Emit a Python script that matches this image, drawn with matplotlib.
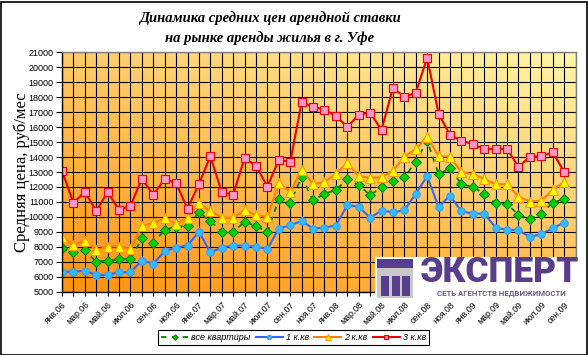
import numpy as np
import matplotlib
matplotlib.use("Agg")
import matplotlib.pyplot as plt
from matplotlib.patches import Rectangle

months = ["янв", "фев", "мар", "апр", "май", "июн", "июл", "авг", "сен", "окт", "ноя", "дек"]
categories = [f"{m}.{y:02d}" for y in (6, 7, 8, 9) for m in months][:46]

all_flats = [7900, 7620, 7770, 6990, 7080, 7170, 7170, 8570, 8280, 9130, 9350, 9400,
             10310, 9710, 9020, 9020, 9640, 9400, 9000, 11180, 10910, 12690, 11110,
             11540, 11800, 12520, 12140, 11450, 11980, 12400, 12650, 13680, 15100, 12850,
             13260, 12180, 12000, 11540, 10910, 10870, 10130, 9870, 10200, 10960, 11180]
one_room = [6350, 6320, 6410, 6120, 6120, 6300, 6300, 7080, 6880, 7700, 7950, 8080,
            9020, 7620, 7950, 8080, 8080, 7990, 7860, 9220, 9440, 9730, 9220,
            9290, 9420, 10780, 10690, 9950, 10420, 10310, 10440, 11540, 12720, 10670,
            11420, 10380, 10220, 10220, 9290, 9130, 9130, 8640, 8860, 9240, 9620]
two_room = [8640, 8130, 8420, 7790, 8020, 8020, 7860, 9400, 9580, 9910, 9530, 9950,
            10930, 10380, 9950, 9910, 10470, 10110, 9980, 12250, 11690, 13140, 12180,
            12340, 12870, 13630, 12720, 12600, 12650, 13090, 14010, 14540, 15370, 14050,
            14030, 12980, 12870, 12540, 12180, 12180, 11360, 11020, 11090, 11800, 12330]
three_room = [13070, 10950, 11660, 10410, 11660, 10460, 10750, 12530, 11480, 12530, 12250, 10550,
              12200, 14050, 11660, 11480, 13940, 13420, 12020, 13820, 13670, 17660, 17370,
              17150, 16750, 16010, 16830, 16970, 15810, 18620, 18020, 18300, 20640, 16900,
              15480, 15090, 14870, 14520, 14540, 14540, 13340, 14020, 14050, 14320, 13020]

series_names = ["все квартиры", "1 к.кв", "2 к.кв", "3 к.кв"]
title = "Динамика средних цен арендной ставки\nна рынке аренды жилья в г. Уфе"
ylabel = "Средняя цена, руб/мес"
y_ticks = list(range(5000, 21001, 1000))

W, H = 588, 355
fig = plt.figure(figsize=(W / 100, H / 100), dpi=100)
fig.patch.set_facecolor("white")

L, R, T, B = 62, 575.5, 52.3, 291.7
ax = fig.add_axes([L / W, 1 - B / H, (R - L) / W, (B - T) / H])

n = len(categories)
x = np.arange(len(three_room))

# gradient background
gx = np.linspace(0, 1, 200)
gy = np.linspace(0, 1, 200)
GX, GY = np.meshgrid(gx, gy)
t = np.clip((GX * 0.55 + GY * 0.75) / 1.3, 0, 1)
c0 = np.array([255, 145, 15]) / 255
c1 = np.array([255, 246, 170]) / 255
img = c0[None, None, :] * (1 - t[..., None]) + c1[None, None, :] * t[..., None]
ax.imshow(img, extent=[0, n - 1, 21000, 5000], aspect="auto", zorder=0, origin="upper")
ax.set_xlim(0, n - 1)
ax.set_ylim(5000, 21000)

for i in range(n):
    ax.axvline(i, color="black", lw=0.8, zorder=1)
for v in y_ticks:
    ax.axhline(v, color="black", lw=0.8, zorder=1)

ax.plot(x, all_flats, color="#008000", lw=1.3, ls=(0, (3, 3)), marker="D", ms=4.6,
        mfc="#00D000", mec="#008000", mew=0.7, zorder=3, label=series_names[0])
ax.plot(x, one_room, color="#3366FF", lw=1.5, marker="o", ms=5.4,
        mfc="#33BBFF", mec="#3399FF", mew=0.7, zorder=4, label=series_names[1])
ax.plot(x, two_room, color="#FF8000", lw=1.5, marker="^", ms=7.2,
        mfc="#FFFF00", mec="#FF9900", mew=0.8, zorder=5, label=series_names[2])
ax.plot(x, three_room, color="#EE0000", lw=1.5, marker="s", ms=5.8,
        mfc="#FF99CC", mec="#EE0000", mew=0.8, zorder=6, label=series_names[3])

for s in ax.spines.values():
    s.set_color("#808080")
    s.set_linewidth(1.0)
    s.set_zorder(7)
ax.spines["left"].set_color("black")
ax.spines["bottom"].set_color("black")

label_idx = np.arange(0, len(three_room), 2)
ax.set_xticks(label_idx)
ax.set_xticklabels([categories[i] for i in label_idx], rotation=45, ha="right",
                   rotation_mode="anchor", fontsize=6.3, family="Liberation Sans")
ax.set_xticks(np.arange(n), minor=True)
ax.tick_params(axis="x", which="both", length=3, width=0.8, pad=3)
ax.set_yticks(y_ticks)
ax.set_yticklabels([str(v) for v in y_ticks], fontsize=6.5, family="Liberation Sans")
ax.tick_params(axis="y", length=4, width=0.8, pad=2)

fig.text(22 / W, 1 - 172 / H, ylabel, rotation=90, ha="center", va="center",
         fontsize=12, family="Liberation Serif")
fig.text(270 / W, 1 - 28 / H, title, ha="center", va="center", fontsize=10.5,
         family="Liberation Serif", weight="bold", style="italic", linespacing=1.55)

leg = ax.legend(loc="center", bbox_to_anchor=((293.5 - L) / (R - L), (B - 337.5) / (B - T)),
                ncol=4, frameon=True, fancybox=False, edgecolor="black", framealpha=1,
                prop={"family": "Liberation Sans", "style": "italic", "size": 6.5},
                handlelength=3.0, handletextpad=0.3, columnspacing=0.6,
                borderpad=0.35, borderaxespad=0, markerscale=0.6)
leg.get_frame().set_linewidth(0.8)

# logo
fig.patches.append(Rectangle((375 / W, 1 - 300 / H), 212 / W, 43 / H, transform=fig.transFigure,
                             facecolor="white", edgecolor="none", zorder=10))
fig.patches.append(Rectangle((377 / W, 1 - 298 / H), 36 / W, 39 / H, transform=fig.transFigure,
                             facecolor="#C8C8C8", edgecolor="none", zorder=11))
fig.patches.append(Rectangle((377 / W, 1 - 268 / H), 36 / W, 9 / H, transform=fig.transFigure,
                             facecolor="#5A3C8C", edgecolor="none", zorder=12))
for k in range(3):
    fig.patches.append(Rectangle(((381 + k * 10.5) / W, 1 - 296 / H), 8 / W, 20 / H,
                                 transform=fig.transFigure, facecolor="#5A3C8C",
                                 edgecolor="none", zorder=12))
fig.text(500 / W, 1 - 272 / H, "ЭКСПЕРТ", ha="center", va="center", fontsize=25.5,
         family="Roboto", weight="black", color="#5A3C8C", zorder=13)
fig.text(501 / W, 1 - 293.5 / H, "СЕТЬ АГЕНТСТВ НЕДВИЖИМОСТИ", ha="center", va="center",
         fontsize=5.6, family="Roboto", weight="bold", color="#6A5A8C", zorder=13)

fig.patches.append(Rectangle((0.5 / W, 0.5 / H), (W - 2) / W, (H - 2) / H, transform=fig.transFigure,
                             facecolor="none", edgecolor="black", lw=1.2, zorder=20))

fig.savefig("out.png", dpi=100)
